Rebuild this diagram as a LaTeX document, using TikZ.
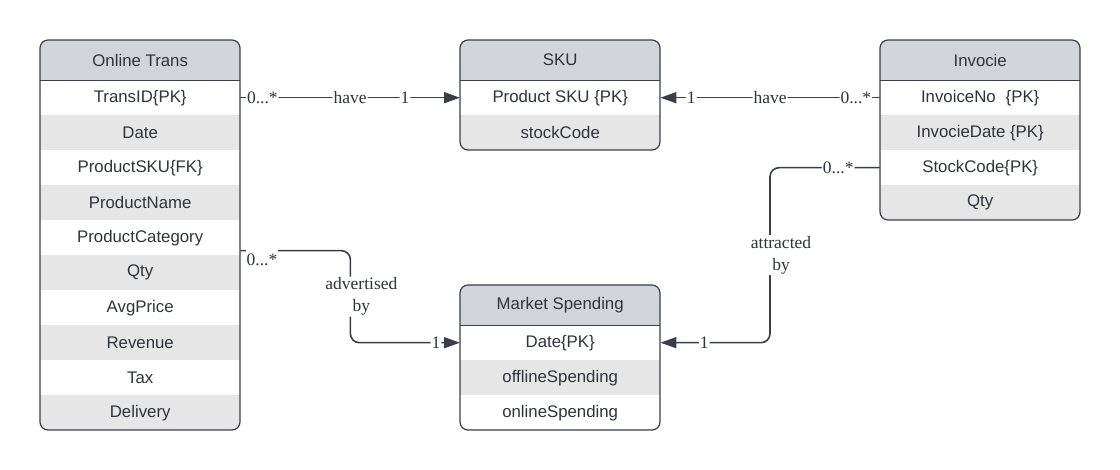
\documentclass[tikz,border=0pt]{standalone}
\usepackage{fontspec}
\setmainfont{Liberation Sans}
\newfontfamily\lblfont{Liberation Serif}
\usetikzlibrary{arrows.meta,calc}
\definecolor{bordc}{HTML}{3A3F47}
\definecolor{headc}{HTML}{D1D5DB}
\definecolor{rowc}{HTML}{E6E6E6}
\definecolor{txtc}{HTML}{2F343B}
\tikzset{
 cell/.style={minimum width=200pt, minimum height=35pt, inner sep=0pt, anchor=north west, text=txtc, font=\fontsize{16.8}{18}\selectfont},
 head/.style={cell, minimum height=40pt, fill=headc},
 grayrow/.style={cell, fill=rowc},
 whiterow/.style={cell, fill=white},
 tableborder/.style={draw=bordc, line width=1.2pt, rounded corners=8pt},
 sepline/.style={draw=bordc, line width=1.2pt},
 conn/.style={draw=bordc, line width=1.6pt, rounded corners=9pt},
 arr/.style={-{Triangle[length=16pt,width=11pt]}},
 lbl/.style={fill=white, inner sep=1pt, text=txtc, font=\lblfont\fontsize{17.5}{22}\selectfont, align=center}
}
\begin{document}
\begin{tikzpicture}[x=1pt,y=-1pt]
\useasboundingbox (0,0) rectangle (1120,470);

% ---------- Online Trans ----------
\begin{scope}
\clip[rounded corners=8pt] (40,40) rectangle (240,430);
\node[head] (oth) at (40,40) {Online Trans};
\node[whiterow] (ot1) at (40,80) {TransID\{PK\}};
\node[grayrow] (ot2) at (40,115) {Date};
\node[whiterow] (ot3) at (40,150) {ProductSKU\{FK\}};
\node[grayrow] (ot4) at (40,185) {ProductName};
\node[whiterow] (ot5) at (40,220) {ProductCategory};
\node[grayrow] (ot6) at (40,255) {Qty};
\node[whiterow] (ot7) at (40,290) {AvgPrice};
\node[grayrow] (ot8) at (40,325) {Revenue};
\node[whiterow] (ot9) at (40,360) {Tax};
\node[grayrow] (ot10) at (40,395) {Delivery};
\end{scope}
\draw[tableborder] (40,40) rectangle (240,430);
\draw[sepline] (oth.south west) -- (oth.south east);

% ---------- SKU ----------
\begin{scope}
\clip[rounded corners=8pt] (460,40) rectangle (660,150);
\node[head] (skuh) at (460,40) {SKU};
\node[whiterow] (sku1) at (460,80) {Product SKU \{PK\}};
\node[grayrow] (sku2) at (460,115) {stockCode};
\end{scope}
\draw[tableborder] (460,40) rectangle (660,150);
\draw[sepline] (skuh.south west) -- (skuh.south east);

% ---------- Invocie ----------
\begin{scope}
\clip[rounded corners=8pt] (880,40) rectangle (1080,220);
\node[head] (invh) at (880,40) {Invocie};
\node[whiterow] (inv1) at (880,80) {InvoiceNo\hspace{10pt}\{PK\}};
\node[grayrow] (inv2) at (880,115) {InvocieDate \{PK\}};
\node[whiterow] (inv3) at (880,150) {StockCode\{PK\}};
\node[grayrow] (inv4) at (880,185) {Qty};
\end{scope}
\draw[tableborder] (880,40) rectangle (1080,220);
\draw[sepline] (invh.south west) -- (invh.south east);

% ---------- Market Spending ----------
\begin{scope}
\clip[rounded corners=8pt] (460,285) rectangle (660,430);
\node[head] (msh) at (460,285) {Market Spending};
\node[whiterow] (ms1) at (460,325) {Date\{PK\}};
\node[grayrow] (ms2) at (460,360) {offlineSpending};
\node[whiterow] (ms3) at (460,395) {onlineSpending};
\end{scope}
\draw[tableborder] (460,285) rectangle (660,430);
\draw[sepline] (msh.south west) -- (msh.south east);

% ---------- Connectors ----------
\draw[conn,arr] (ot1.east) -- node[lbl,pos=0.1]{0...*} node[lbl,pos=0.5]{have} node[lbl,pos=0.75]{1} (sku1.west);

\draw[conn,arr] (inv1.west) -- node[lbl,pos=0.11]{0...*} node[lbl,pos=0.5]{have} node[lbl,pos=0.86]{1} (sku1.east);

\coordinate (adv) at ($(ot5.east)+(0,13)$);
\draw[conn,arr] (adv) -- ++(110,0) |- node[lbl,pos=0.25,xshift=11pt]{advertised\\by} node[lbl,pos=0.89]{1} (ms1.west);
\node[lbl, minimum height=24pt, minimum width=32pt] (l3a) at (262,260) {0...*};

\coordinate (att) at (inv3.west);
\draw[conn,arr] (att) -- node[lbl,pos=0.38]{0...*} ++(-110,0) |- node[lbl,pos=0.25,xshift=11pt]{attracted\\by} node[lbl,pos=0.8]{1} (ms1.east);

\end{tikzpicture}
\end{document}
